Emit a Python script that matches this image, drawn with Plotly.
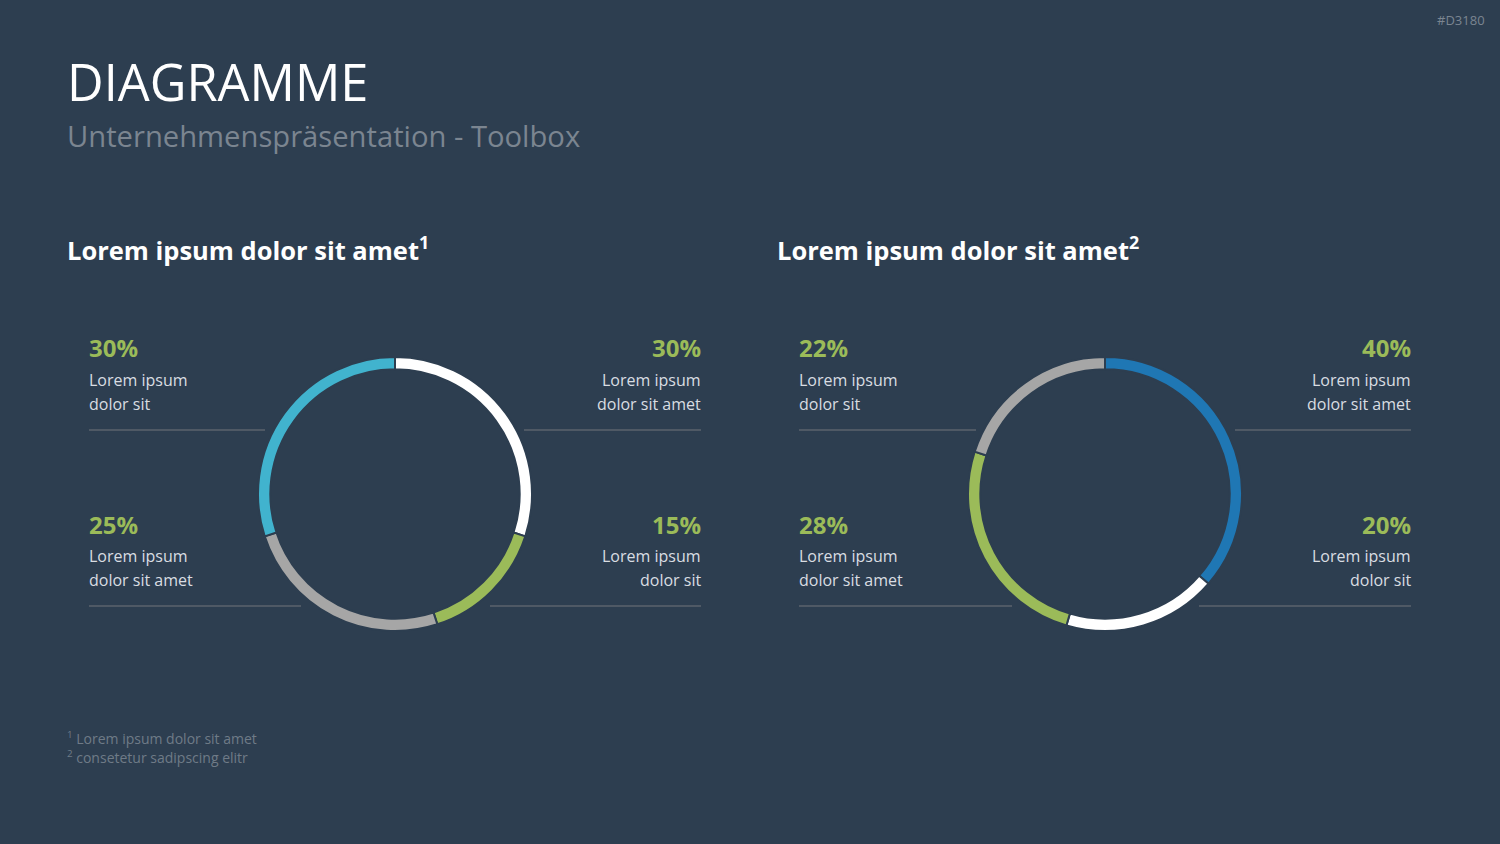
import plotly.graph_objects as go

W, H = 1500, 844
BG = "#2d3e50"

# Data
left_labels = ["A", "B", "C", "D"]
left_values = [30, 15, 25, 30]
left_colors = ["#ffffff", "#9bbb59", "#a6a6a6", "#41b3ce"]

right_labels = ["A", "B", "C", "D"]
right_values = [40, 20, 28, 22]
right_colors = ["#1f77b4", "#ffffff", "#9bbb59", "#a6a6a6"]

left_pcts = ["30%", "30%", "25%", "15%"]     # TL, TR, BL, BR
left_texts = [("Lorem ipsum", "dolor sit"), ("Lorem ipsum", "dolor sit amet"),
              ("Lorem ipsum", "dolor sit amet"), ("Lorem ipsum", "dolor sit")]
right_pcts = ["22%", "40%", "28%", "20%"]
right_texts = [("Lorem ipsum", "dolor sit"), ("Lorem ipsum", "dolor sit amet"),
               ("Lorem ipsum", "dolor sit amet"), ("Lorem ipsum", "dolor sit")]

FONT = "Open Sans"

def px(x):
    return x / W

def py(y):
    return 1 - y / H

fig = go.Figure()

R = 137
for cx, vals, cols, labs in [(395, left_values, left_colors, left_labels),
                             (1105, right_values, right_colors, right_labels)]:
    cy = 494
    fig.add_trace(go.Pie(
        labels=labs, values=vals, sort=False, direction="clockwise", rotation=0,
        hole=0.91, textinfo="none", textposition="none", hoverinfo="none",
        showlegend=False,
        marker=dict(colors=cols, line=dict(color=BG, width=2)),
        domain=dict(x=[px(cx - R), px(cx + R)], y=[py(cy + R), py(cy - R)]),
    ))

ann = []
shapes = []

def text(x, y, t, size, color, anchor="left", bold=False, yanchor="middle"):
    ann.append(dict(x=px(x), y=py(y), xref="paper", yref="paper", text=t,
                    showarrow=False, xanchor=anchor, yanchor=yanchor, align=anchor,
                    font=dict(family=FONT, size=size, color=color,
                              weight="bold" if bold else "normal")))

def hline(x0, x1, y):
    shapes.append(dict(type="line", xref="paper", yref="paper",
                       x0=px(x0), x1=px(x1), y0=py(y), y1=py(y),
                       line=dict(color="#5b636c", width=1.5)))

# Titles
text(65, 81, "DIAGRAMME", 50.5, "#ffffff")
text(65, 136, "Unternehmenspräsentation - Toolbox", 29.2, "#7b8590")
text(1487, 20, "#D3180", 13, "#7b8590", anchor="right")
text(65, 249, "Lorem ipsum dolor sit amet<sup>1</sup>", 25.5, "#ffffff", bold=True)
text(775, 249, "Lorem ipsum dolor sit amet<sup>2</sup>", 25.5, "#ffffff", bold=True)

GREEN = "#9bbb59"
TXT = "#d9dde2"

def block(xl, xr, pcts, texts, lines):
    # pcts/texts order: TL, TR, BL, BR
    positions = [(xl, 348, "left"), (xr, 348, "right"), (xl, 524, "left"), (xr, 524, "right")]
    for (x, y, a), p, (t1, t2) in zip(positions, pcts, texts):
        text(x, y, p, 24, GREEN, anchor=a, bold=True)
        text(x, y + 32, t1, 16, TXT, anchor=a)
        text(x, y + 56, t2, 16, TXT, anchor=a)
    for l in lines:
        hline(*l)

block(87, 703, left_pcts, left_texts,
      [(89, 265, 430), (524, 701, 430), (89, 301, 606), (490, 701, 606)])
block(797, 1413, right_pcts, right_texts,
      [(799, 976, 430), (1235, 1411, 430), (799, 1012, 606), (1199, 1411, 606)])

# Footnotes
text(65, 738, "<sup>1</sup> Lorem ipsum dolor sit amet", 14, "#6f7b87")
text(65, 757, "<sup>2</sup> consetetur sadipscing elitr", 14, "#6f7b87")

fig.update_layout(
    width=W, height=H, margin=dict(l=0, r=0, t=0, b=0),
    paper_bgcolor=BG, plot_bgcolor=BG,
    annotations=ann, shapes=shapes,
)

fig.write_html("out.html")
